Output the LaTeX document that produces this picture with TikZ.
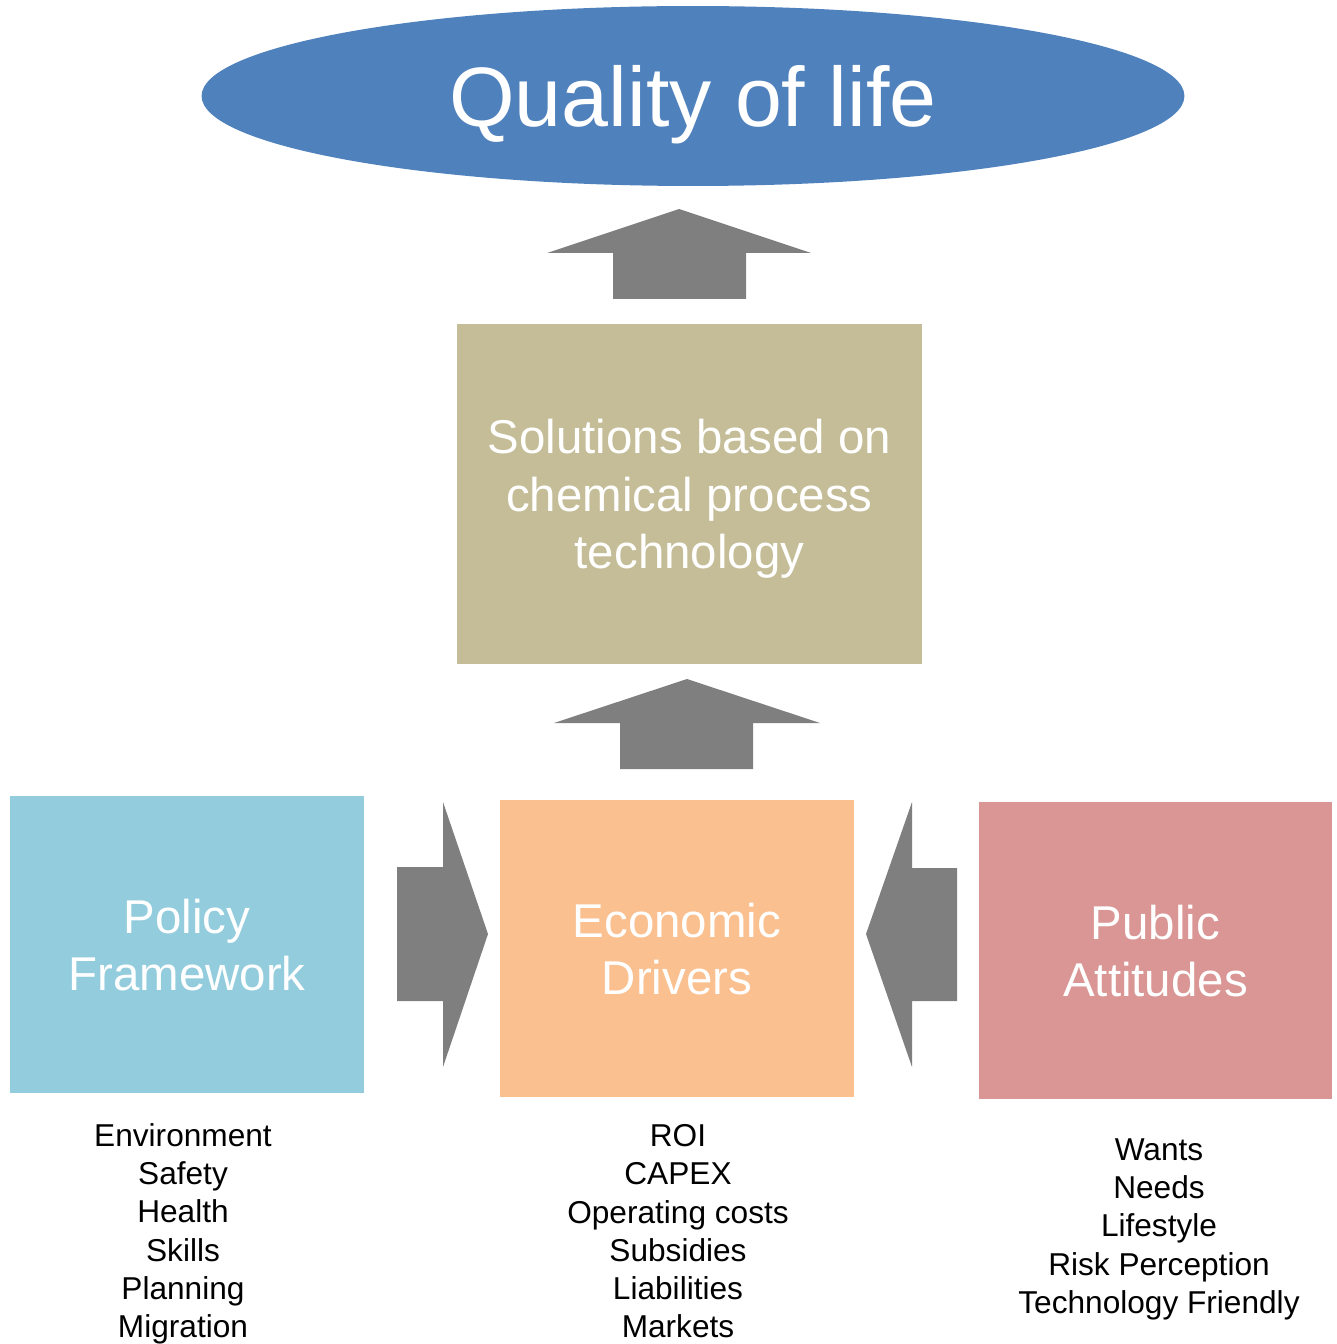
\documentclass[tikz,border=0pt]{standalone}
\usepackage{fontspec}
\setmainfont{Liberation Sans}
\usepackage{xcolor}
\usepackage{tikz}
\usetikzlibrary{shapes.geometric}
\definecolor{lifeblue}{HTML}{4F81BD}
\definecolor{arrowgray}{HTML}{7F7F7F}
\definecolor{solutiontan}{HTML}{C4BD97}
\definecolor{policyblue}{HTML}{93CDDD}
\definecolor{economicorange}{HTML}{FAC090}
\definecolor{publicpink}{HTML}{D99694}
\tikzset{% 
  factor box/.style={%
    rectangle,
    inner sep=0pt,
    text=white,
    text depth=0pt,
    align=center,
    font=\fontsize{27}{32.6}\selectfont
  }
}
\tikzset{% 
  factor list/.style={%
    anchor=north,
    inner sep=0pt,
    align=center,
    font=\fontsize{18}{21.8}\selectfont
  }
}
\tikzset{% 
  fat arrow/.style={%
    fill=arrowgray
  }
}

\begin{document}
\begin{tikzpicture}[x=0.02cm,y=-0.02cm]
  \useasboundingbox (0,0) rectangle (1337,1344);
  \node [ellipse, fill=lifeblue, inner sep=0pt, text depth=0pt, minimum width=19.66cm, minimum height=3.6cm, text=white, font=\fontsize{48}{58}\selectfont] (life) at (693,96) {Quality of life};
  \node [factor box, fill=solutiontan, minimum width=9.3cm, minimum height=6.8cm] (solutions) at (689.5,494) {Solutions based on\\chemical process\\technology};
  \node [factor box, fill=policyblue, minimum width=7.08cm, minimum height=5.94cm] (policy) at (187,944.5) {Policy\\Framework};
  \node [factor box, fill=economicorange, minimum width=7.08cm, minimum height=5.94cm] (economic) at (677,948.5) {Economic\\Drivers};
  \node [factor box, fill=publicpink, minimum width=7.06cm, minimum height=5.94cm] (public) at (1155.5,950.5) {Public\\Attitudes};
  % lists under the boxes
  \node [factor list] (policy list) at (183,1123) {Environment\\Safety\\Health\\Skills\\Planning\\Migration};
  \node [factor list] (economic list) at (678,1124) {ROI\\CAPEX\\Operating costs\\Subsidies\\Liabilities\\Markets};
  \node [factor list] (public list) at (1159,1138) {Wants\\Needs\\Lifestyle\\Risk Perception\\Technology Friendly};
  % block arrows
  \fill [fat arrow] (613,299) -- (613,253) -- (547,253) -- (679,209) -- (811,253) -- (746,253) -- (746,299) -- cycle;
  \fill [fat arrow] (620,769) -- (620,723) -- (554,723) -- (687,679) -- (820,723) -- (753,723) -- (753,769) -- cycle;
  \fill [fat arrow] (397,867) -- (443,867) -- (443,802) -- (488,934) -- (443,1067) -- (443,1001) -- (397,1001) -- cycle;
  \fill [fat arrow] (957,868) -- (912,868) -- (912,802) -- (866,934) -- (912,1067) -- (912,1001) -- (957,1001) -- cycle;
\end{tikzpicture}
\end{document}
